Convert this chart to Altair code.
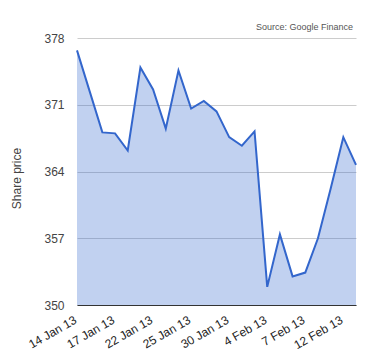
import altair as alt
import pandas as pd

dates = ["14 Jan 13", "15 Jan 13", "16 Jan 13", "17 Jan 13", "18 Jan 13",
         "21 Jan 13", "22 Jan 13", "23 Jan 13", "24 Jan 13", "25 Jan 13",
         "28 Jan 13", "29 Jan 13", "30 Jan 13", "31 Jan 13", "1 Feb 13",
         "4 Feb 13", "5 Feb 13", "6 Feb 13", "7 Feb 13", "8 Feb 13",
         "11 Feb 13", "12 Feb 13", "13 Feb 13"]
prices = [376.7, 372.4, 368.1, 368.0, 366.2,
          374.9, 372.6, 368.5, 374.6, 370.6,
          371.4, 370.3, 367.6, 366.7, 368.2,
          351.9, 357.4, 353.0, 353.4, 357.0,
          362.2, 367.6, 364.7]
tick_labels = ["14 Jan 13", "17 Jan 13", "22 Jan 13", "25 Jan 13",
               "30 Jan 13", "4 Feb 13", "7 Feb 13", "12 Feb 13"]
y_ticks = [350, 357, 364, 371, 378]
source_text = ["Source: Google Finance"]

df = pd.DataFrame({"date": dates, "price": prices})
FONT = "Arial, Liberation Sans"

x_enc = alt.X("date:O", sort=dates, title=None,
              scale=alt.Scale(type="point", padding=0),
              axis=alt.Axis(values=tick_labels, labelAngle=330, labelAlign="right",
                            labelBaseline="alphabetic", labelPadding=17, ticks=False,
                            domainColor="#333333", domainWidth=1, grid=False,
                            labelFont=FONT, labelFontSize=12, labelColor="#222222"))
y_enc = alt.Y("price:Q", title="Share price",
              scale=alt.Scale(domain=[350, 378], nice=False, zero=False),
              axis=alt.Axis(values=y_ticks, ticks=False, domain=False, labelPadding=13,
                            gridColor="#cccccc", labelFont=FONT, labelFontSize=12,
                            labelColor="#444444", titleFont=FONT, titleFontSize=12,
                            titleFontWeight="normal", titleColor="#444444",
                            titleAngle=270, titleX=-61, titleY=140,
                            titleAlign="center", titleBaseline="middle"))

base = alt.Chart(df)
area = base.mark_area(color="#3366cc", opacity=0.3).encode(
    x=x_enc, y=y_enc, y2=alt.datum(350))
line = base.mark_line(color="#3366cc", strokeWidth=2).encode(x=x_enc, y=y_enc)
src = alt.Chart(pd.DataFrame({"t": source_text})).mark_text(
    align="right", baseline="alphabetic", font=FONT, fontSize=9, color="#555555"
).encode(text="t:N", x=alt.value(276), y=alt.value(-8))

chart = alt.layer(area, line, src).properties(
    width=279, height=267,
    autosize=alt.AutoSizeParams(type="none"),
    padding={"left": 69, "top": 30, "right": 10, "bottom": 50},
).configure_view(stroke=None)

chart.save("out.html", embed_options={"renderer": "svg", "actions": False})
